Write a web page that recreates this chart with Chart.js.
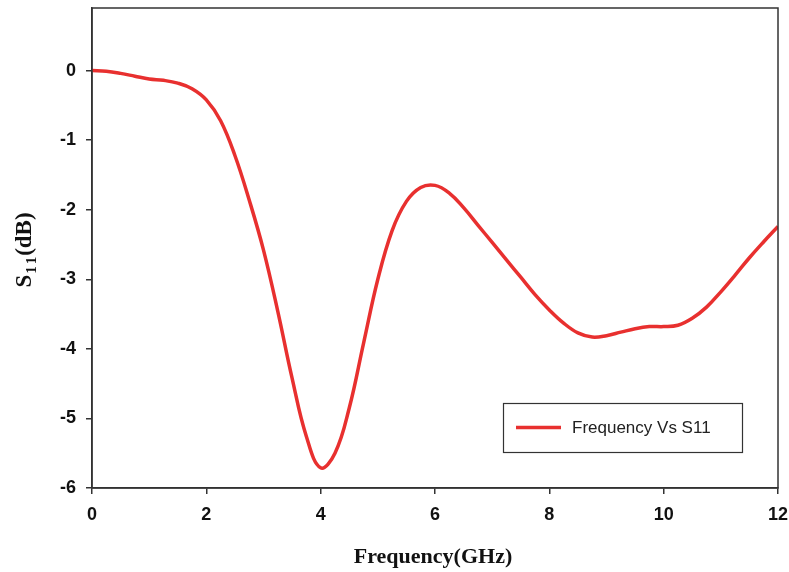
<!DOCTYPE html>
<html>
<head>
<meta charset="utf-8">
<script src="https://cdn.jsdelivr.net/npm/chart.js@4/dist/chart.umd.min.js"></script>
<style>
  body { margin: 0; background: #fff; }
</style>
</head>
<body>
<canvas id="canvas" width="789" height="572"></canvas>
<script>
// frequency in GHz and S11 in dB
var freq = [0, 0.25, 0.5, 0.75, 1, 1.25, 1.5, 1.75, 2, 2.25, 2.5, 2.75, 3, 3.25, 3.5, 3.75, 4, 4.25, 4.5, 4.75, 5, 5.25, 5.5, 5.75, 6, 6.25, 6.5, 6.75, 7, 7.25, 7.5, 7.75, 8, 8.25, 8.5, 8.75, 9, 9.25, 9.5, 9.75, 10, 10.25, 10.5, 10.75, 11, 11.25, 11.5, 11.75, 12];
var s11  = [0, -0.01, -0.04, -0.08, -0.12, -0.14, -0.18, -0.26, -0.42, -0.72, -1.22, -1.86, -2.58, -3.46, -4.42, -5.26, -5.71, -5.50, -4.85, -3.92, -3.0, -2.3, -1.88, -1.68, -1.65, -1.76, -1.97, -2.22, -2.47, -2.72, -2.97, -3.22, -3.44, -3.63, -3.77, -3.83, -3.81, -3.76, -3.71, -3.68, -3.68, -3.66, -3.56, -3.40, -3.18, -2.94, -2.69, -2.46, -2.24];
var xTicks = [0, 2, 4, 6, 8, 10, 12];
var yTicks = [0, -1, -2, -3, -4, -5, -6];
var seriesName = 'Frequency Vs S11';

var points = [];
for (var i in freq) {
	points.push({x: freq[i], y: s11[i]});
}

var red = '#e8302f';
var axisColor = '#333';
var serif = '"Liberation Serif", "Times New Roman", serif';

// frame, axis titles and the boxed legend
var extras = {
	id: 'extras',
	afterDraw: function(chart) {
		var ctx = chart.ctx;
		var a = chart.chartArea;
		ctx.save();
		ctx.strokeStyle = axisColor;
		ctx.lineWidth = 1.5;
		ctx.strokeRect(a.left, a.top, a.right - a.left, a.bottom - a.top);

		// x title
		ctx.fillStyle = '#111';
		ctx.font = 'bold 22px ' + serif;
		ctx.textAlign = 'center';
		ctx.textBaseline = 'alphabetic';
		ctx.fillText('Frequency(GHz)', 433, 563);

		// y title with subscript
		ctx.translate(23, 250);
		ctx.rotate(-Math.PI / 2);
		var big = 'bold 23px ' + serif;
		var small = 'bold 15px ' + serif;
		ctx.font = big;
		var w1 = ctx.measureText('S').width;
		var w3 = ctx.measureText('(dB)').width;
		ctx.font = small;
		var w2 = ctx.measureText('1').width;
		var gap = 2;
		var x0 = -(w1 + 2 * w2 + 2 * gap + w3) / 2;
		ctx.textAlign = 'left';
		ctx.font = big;
		ctx.fillText('S', x0, 8);
		ctx.font = small;
		ctx.fillText('1', x0 + w1 + gap / 2, 13);
		ctx.fillText('1', x0 + w1 + w2 + gap * 1.5, 13);
		ctx.font = big;
		ctx.fillText('(dB)', x0 + w1 + 2 * w2 + 2 * gap, 8);
		ctx.restore();

		// legend
		ctx.save();
		ctx.strokeStyle = axisColor;
		ctx.lineWidth = 1.2;
		ctx.strokeRect(503.5, 403.5, 239, 49);
		ctx.strokeStyle = red;
		ctx.lineWidth = 3.5;
		ctx.beginPath();
		ctx.moveTo(516, 427.5);
		ctx.lineTo(561, 427.5);
		ctx.stroke();
		ctx.fillStyle = '#222';
		ctx.font = '17px "Liberation Sans", Arial, sans-serif';
		ctx.textAlign = 'left';
		ctx.textBaseline = 'middle';
		ctx.fillText(chart.data.datasets[0].label, 572, 428);
		ctx.restore();
	}
};

var tickFont = { family: '"Liberation Sans", Arial, sans-serif', size: 18, weight: 'bold' };

var chart = new Chart(document.getElementById('canvas').getContext('2d'), {
	type: 'line',
	data: {
		datasets: [{
			label: seriesName,
			data: points,
			borderColor: red,
			borderWidth: 3.5,
			pointRadius: 0,
			fill: false,
			tension: 0.4
		}]
	},
	options: {
		responsive: false,
		animation: false,
		layout: { padding: { top: 8, right: 11, left: 0, bottom: 0 } },
		plugins: {
			legend: { display: false },
			tooltip: { enabled: false }
		},
		scales: {
			x: {
				type: 'linear',
				min: 0,
				max: 12,
				afterFit: function(s) { s.height = 84; s.paddingLeft = 0; s.paddingRight = 0; },
				afterBuildTicks: function(s) { s.ticks = xTicks.map(function(v){ return {value: v}; }); },
				grid: { drawOnChartArea: false, drawTicks: true, tickLength: 6, color: axisColor, lineWidth: 1.5 },
				border: { display: true, color: axisColor, width: 1.5 },
				ticks: { color: '#111', font: tickFont, padding: 10, maxRotation: 0 }
			},
			y: {
				type: 'linear',
				min: -6,
				max: 0.9,
				afterFit: function(s) { s.width = 92; s.paddingTop = 0; s.paddingBottom = 0; },
				afterBuildTicks: function(s) { s.ticks = yTicks.map(function(v){ return {value: v}; }); },
				grid: { drawOnChartArea: false, drawTicks: true, tickLength: 6, color: axisColor, lineWidth: 1.5 },
				border: { display: true, color: axisColor, width: 1.5 },
				ticks: { color: '#111', font: tickFont, padding: 10 }
			}
		}
	},
	plugins: [extras]
});
</script>
</body>
</html>
